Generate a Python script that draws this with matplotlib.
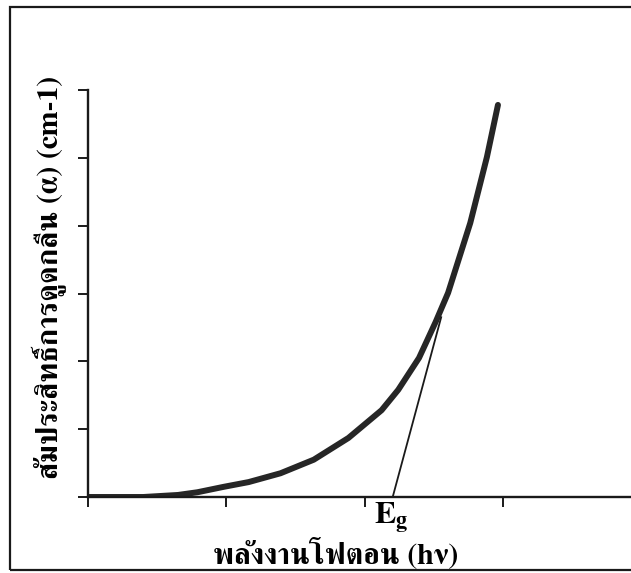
import matplotlib
matplotlib.use("Agg")
import matplotlib.pyplot as plt
from matplotlib.patches import Rectangle

# ---- data (arbitrary units) ----
energy = [0, 0.40, 0.65, 0.79, 0.98, 1.16, 1.39, 1.63, 1.88, 2.12, 2.24, 2.39, 2.51, 2.60, 2.76, 2.88, 2.96]
alpha = [0, 0, 0.03, 0.07, 0.15, 0.22, 0.35, 0.55, 0.87, 1.28, 1.58, 2.05, 2.58, 3.01, 4.04, 5.01, 5.78]
tangent_x = [2.20, 2.55]
tangent_y = [0, 2.65]
x_ticks = [0, 1, 2, 3]
y_ticks = [0, 1, 2, 3, 4, 5, 6]
x_label = "พลังงานโฟตอน (hν)"
y_label = "สัมประสิทธิ์การดูดกลืน (α) (cm-1)"
eg_label = r"$\mathbf{E}_\mathbf{g}$"

plt.rcParams['mathtext.fontset'] = 'stix'
fams = ['Laksaman', 'Norasi', 'FreeSerif', 'DejaVu Serif']

W, H = 631, 573
fig = plt.figure(figsize=(W / 100, H / 100), dpi=100)
ax = fig.add_axes([88 / W, (H - 497) / H, 1 - 88 / W, (497 - 90) / H])

ax.plot(energy, alpha, color='#262626', lw=4.3, solid_capstyle='round', solid_joinstyle='round')
ax.plot(tangent_x, tangent_y, color='#1a1a1a', lw=1.3)

ax.set_xlim(0, (W - 88) / 138.5)
ax.set_ylim(0, 6)
ax.set_xticks(x_ticks)
ax.set_yticks(y_ticks)
ax.set_xticklabels([])
ax.set_yticklabels([])
ax.tick_params(direction='out', length=7, width=1.4, color='#1a1a1a')
for s in ['top', 'right']:
    ax.spines[s].set_visible(False)
for s in ['left', 'bottom']:
    ax.spines[s].set_linewidth(1.7)
    ax.spines[s].set_color('#1a1a1a')

fig.text(49 / W, 1 - 277 / H, y_label, rotation=90, ha='center', va='center',
         fontsize=21.5, fontweight='bold', family=fams)
fig.text(336 / W, 1 - 553 / H, x_label, ha='center', va='center',
         fontsize=21.3, fontweight='bold', family=fams)
fig.text(391 / W, 1 - 519 / H, eg_label, ha='center', va='center', fontsize=23)

fig.patches.append(Rectangle((10 / W, 3 / H), 1.2, (570 - 7) / H, transform=fig.transFigure,
                             fill=False, lw=1.6, edgecolor='#1a1a1a'))

fig.savefig('out.png', dpi=100)
